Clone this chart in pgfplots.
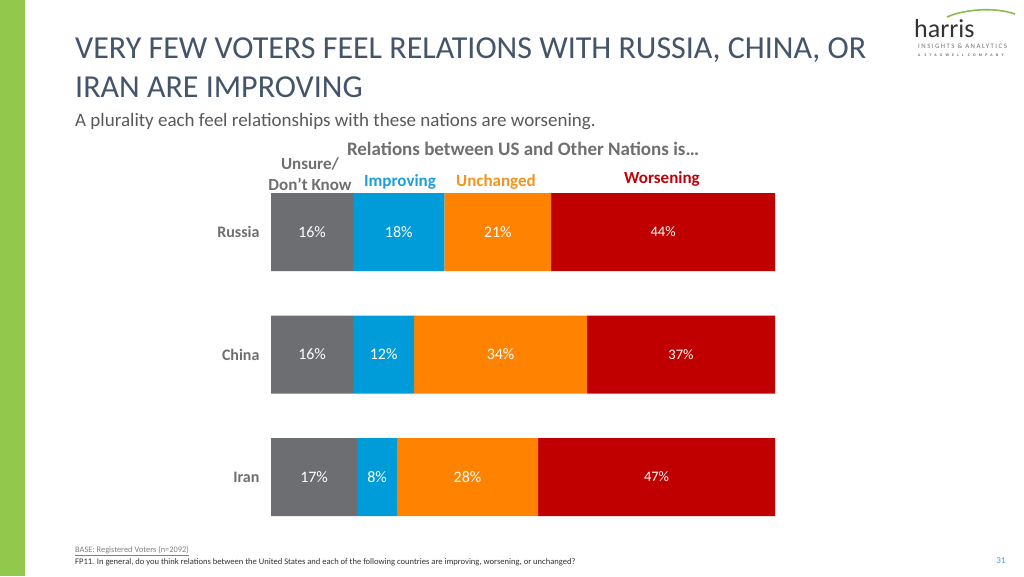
\documentclass[border=0pt]{standalone}
\usepackage{pgfplots}
\usepackage{pgfplotstable}
\pgfplotsset{compat=1.18}
\usepackage{fontspec}
\setmainfont{Carlito}
\newfontfamily\spaced[LetterSpace=22]{Carlito}
\newfontfamily\wide[LetterSpace=85]{Carlito}
\definecolor{sidegreen}{HTML}{92C84C}
\definecolor{titlecol}{HTML}{44546A}
\definecolor{subcol}{HTML}{595959}
\definecolor{catgray}{HTML}{6F6F6F}
\definecolor{cgray}{HTML}{6D6E71}
\definecolor{cblue}{HTML}{009CDA}
\definecolor{corange}{HTML}{FF8200}
\definecolor{cred}{HTML}{C00000}
\definecolor{hblue}{HTML}{1C9FD8}
\definecolor{horange}{HTML}{F39420}
\definecolor{hred}{HTML}{C0000B}
\definecolor{logogreen}{HTML}{8DBB4A}
\definecolor{pagecol}{HTML}{4A9BD0}

\pgfplotstableread{
y unsure improving unchanged worsening lu li lc lw
0 16.3 18.1 21.2 44.4 16 18 21 44
1 16.3 12.1 34.3 37.3 16 12 34 37
2 17.1 7.9 28.0 47.0 17 8 28 47
}\datatable

\begin{document}
\begin{tikzpicture}
\fill[white] (0pt,0pt) rectangle (1024pt,-576pt);
\path[use as bounding box] (0pt,0pt) rectangle (1024pt,-576pt);
\fill[sidegreen] (0pt,0pt) rectangle (25pt,-576pt);

% titles
\node[anchor=base west, inner sep=0pt, text=titlecol, font=\fontsize{32}{38}\selectfont] at (75pt,-58pt) {VERY FEW VOTERS FEEL RELATIONS WITH RUSSIA, CHINA, OR};
\node[anchor=base west, inner sep=0pt, text=titlecol, font=\fontsize{32}{38}\selectfont] at (75pt,-97pt) {IRAN ARE IMPROVING};
\node[anchor=base west, inner sep=0pt, text=subcol, font=\fontsize{19}{22}\selectfont] at (75pt,-126pt) {A plurality each feel relationships with these nations are worsening.};

% logo
\node[anchor=base west, inner sep=0pt, text=black!80, font=\fontsize{26}{26}\selectfont] at (914pt,-37pt) {harris};
\draw[logogreen, line width=1.6pt] (947pt,-17pt) .. controls (965pt,-9pt) and (995pt,-7pt) .. (1015pt,-14pt);
\node[anchor=base west, inner sep=0pt, text=black!55, font=\spaced\fontsize{6.8}{7}\selectfont] at (918pt,-48pt) {INSIGHTS \& ANALYTICS};
\node[anchor=base west, inner sep=0pt, text=black!60, font=\wide\fontsize{3.8}{4}\selectfont\bfseries] at (918pt,-56pt) {A STAGWELL COMPANY};

% header
\node[anchor=base, inner sep=0pt, text=catgray, font=\fontsize{19}{22}\selectfont\bfseries] at (523pt,-155pt) {Relations between US and Other Nations is\ldots};
\node[anchor=base, inner sep=0pt, text=catgray, font=\fontsize{17}{20}\selectfont\bfseries] at (310pt,-169pt) {Unsure/};
\node[anchor=base, inner sep=0pt, text=catgray, font=\fontsize{17}{20}\selectfont\bfseries] at (310pt,-190pt) {Don’t Know};
\node[anchor=base, inner sep=0pt, text=hblue, font=\fontsize{17}{20}\selectfont\bfseries] at (400pt,-186pt) {Improving};
\node[anchor=base, inner sep=0pt, text=horange, font=\fontsize{17}{20}\selectfont\bfseries] at (496pt,-186pt) {Unchanged};
\node[anchor=base, inner sep=0pt, text=hred, font=\fontsize{17}{20}\selectfont\bfseries] at (662pt,-183pt) {Worsening};

\begin{axis}[
  at={(271pt,-170.75pt)}, anchor=north west,
  scale only axis, width=504pt, height=367.5pt,
  xmin=0, xmax=100, ymin=-0.5, ymax=2.5, y dir=reverse,
  xbar stacked, bar width=78pt,
  axis line style={draw=none}, major tick length=0pt,
  xtick=\empty, ytick={0,1,2}, yticklabels={Russia,China,Iran},
  yticklabel style={font=\fontsize{16}{18}\selectfont\bfseries, text=catgray, xshift=-8pt},
  /pgf/number format/assume math mode=true,
  point meta=explicit,
  nodes near coords={\pgfmathprintnumber[fixed,precision=0]{\pgfplotspointmeta}\%},
  every node near coord/.append style={text=white, font=\fontsize{16}{18}\selectfont},
  clip=false,
]
\addplot[fill=cgray, draw=none] table[x=unsure, y=y, meta=lu] {\datatable};
\addplot[fill=cblue, draw=none] table[x=improving, y=y, meta=li] {\datatable};
\addplot[fill=corange, draw=none] table[x=unchanged, y=y, meta=lc] {\datatable};
\addplot[fill=cred, draw=none, every node near coord/.append style={font=\fontsize{14.5}{16}\selectfont}] table[x=worsening, y=y, meta=lw] {\datatable};
\end{axis}

% footer
\node[anchor=base west, inner sep=0pt, text=black!50, font=\fontsize{8.4}{9}\selectfont] at (75pt,-552pt) {\underline{BASE: Registered Voters (n=2092)}};
\node[anchor=base west, inner sep=0pt, text=black!80, font=\fontsize{8.55}{9}\selectfont] at (75pt,-564pt) {FP11. In general, do you think relations between the United States and each of the following countries are improving, worsening, or unchanged?};
\node[anchor=base, inner sep=0pt, text=pagecol, font=\fontsize{9}{10}\selectfont] at (1001pt,-563pt) {31};
\end{tikzpicture}
\end{document}
